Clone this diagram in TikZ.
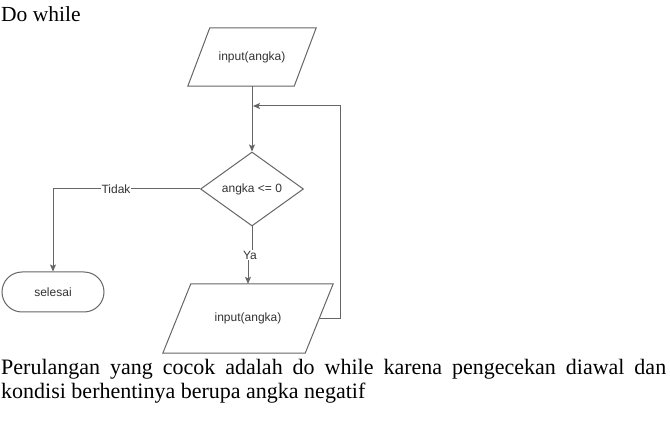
\documentclass[tikz,border=0pt]{standalone}
\usepackage{fontspec}
\setmainfont{Liberation Serif}
\newfontfamily\diafont{Liberation Sans}
\usetikzlibrary{shapes.geometric,arrows.meta}
\definecolor{lncol}{HTML}{666666}
\definecolor{txcol}{HTML}{333333}
\begin{document}
\begin{tikzpicture}[x=1pt,y=-1pt,
  box/.style={draw=none, inner sep=0pt, font=\diafont\fontsize{12}{14}\selectfont, text=txcol},
  outl/.style={draw=lncol, line width=1pt},
  arr/.style={draw=lncol, line width=1pt, -{Stealth[length=7pt,width=6pt,inset=1.5pt]}},
  lbl/.style={fill=white, inner sep=1pt, font=\diafont\fontsize{12}{14}\selectfont, text=txcol},
  ptext/.style={anchor=base west, inner sep=0pt, font=\fontsize{22}{25}\selectfont}
]
\useasboundingbox[fill=white] (0,0) rectangle (670,422);

% top input
\node[box, minimum width=128pt, minimum height=58pt] (in1) at (252,57) {input(angka)};
\draw[outl] ([xshift=22pt]in1.north west) -- (in1.north east) -- ([xshift=-22pt]in1.south east) -- (in1.south west) -- cycle;

% decision
\node[box, diamond, draw=lncol, line width=1pt, minimum width=103pt, minimum height=74pt, aspect=1.39] (dec) at (252,189) {angka <= 0};

% terminal
\node[box, draw=lncol, line width=1pt, rounded corners=20pt, minimum width=102pt, minimum height=40pt] (end) at (53,292) {selesai};

% bottom input
\node[box, minimum width=170pt, minimum height=69pt] (in2) at (248,318.5) {input(angka)};
\draw[outl] ([xshift=28pt]in2.north west) -- (in2.north east) -- ([xshift=-28pt]in2.south east) -- (in2.south west) -- cycle;

% connectors
\draw[arr] (in1.south) -- (dec.north);

\coordinate (yabend) at (252,255);
\draw[arr] (dec.south) -- (yabend) -| (in2.north);
\node[lbl] (ya) at (250,255) {Ya};

\draw[arr] (dec.west) -| (end.north);
\node[lbl] (tidak) at (116,189) {Tidak};

\coordinate (loopstart) at ([xshift=-14pt]in2.east);
\coordinate (loopcorner) at (340,106);
\coordinate (loopjoin) at (253,106);
\draw[arr] (loopstart) -| (loopcorner) -- (loopjoin);

% texts
\node[ptext, font=\fontsize{21.5}{25}\selectfont] (title) at (1,22) {Do while};
\node[ptext] (p1) at (1,374) {\makebox[665pt][s]{Perulangan yang cocok adalah do while karena pengecekan diawal dan}};
\node[ptext] (p2) at (1,399) {kondisi berhentinya berupa angka negatif};
\end{tikzpicture}
\end{document}
